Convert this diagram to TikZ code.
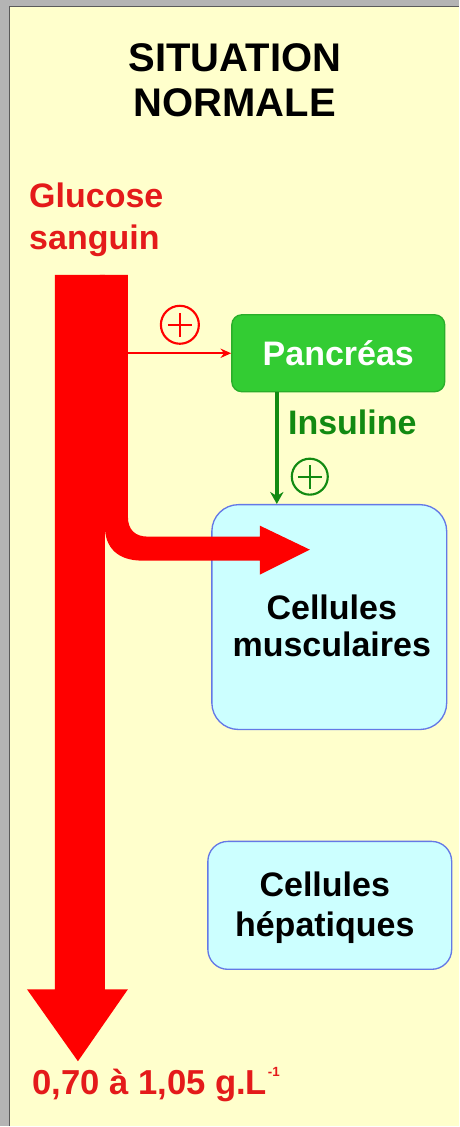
\documentclass[tikz,border=0pt]{standalone}
\usepackage{fontspec}
\setmainfont{Liberation Sans}
\usetikzlibrary{arrows.meta}
\definecolor{bg}{HTML}{FFFFCC}
\definecolor{frameg}{HTML}{B4B4B4}
\definecolor{framed}{HTML}{5A5A5A}
\definecolor{stream}{HTML}{FF0000}
\definecolor{redtxt}{HTML}{E41A1A}
\definecolor{pgreen}{HTML}{33CC33}
\definecolor{pgreenb}{HTML}{2AAE2A}
\definecolor{dgreen}{HTML}{128A12}
\definecolor{cellfill}{HTML}{CCFFFF}
\definecolor{cellb}{HTML}{6478E6}
\tikzset{
  big/.style={font=\fontsize{25.5}{31.5}\selectfont\bfseries},
  cellbox/.style={draw=cellb, line width=1pt, fill=cellfill},
  pluscirc/.style={circle, draw=#1, line width=1.6pt, inner sep=0pt, minimum size=28.5pt,
    path picture={\draw[#1, line width=1.6pt] (path picture bounding box.center) +(-9pt,0) -- +(9pt,0)
      (path picture bounding box.center) +(0,-9pt) -- +(0,9pt);}},
}
\begin{document}
\begin{tikzpicture}[x=0.75pt,y=-0.75pt]
% background and frame
\fill[frameg] (0,0) rectangle (459,1127);
\fill[bg] (9.5,6.5) rectangle (459,1127);
\draw[framed, line width=1.2pt] (9.5,1127) -- (9.5,6.5) -- (459,6.5);

% title (anchor base = last line)
\node[font=\fontsize{30}{33.75}\selectfont\bfseries, align=center, anchor=base, inner sep=0pt] (title) at (235,117) {SITUATION\\NORMALE};

% glucose label
\node[big, text=redtxt, align=left, anchor=base west, inner sep=0pt] (glu) at (29,250) {Glucose\\sanguin};

% nodes
\node[fill=pgreen, draw=pgreenb, line width=1pt, rounded corners=7.5pt,
  minimum width=159.75pt, minimum height=57.75pt, inner sep=0pt,
  big, text=white] (panc) at (338.5,353.5) {Pancréas};

\node[cellbox, rounded corners=20pt, minimum width=176.25pt, minimum height=168.75pt] (musc) at (329.5,617.5) {};
\node[align=center, anchor=base, inner sep=0pt, font=\fontsize{25.5}{27.75}\selectfont\bfseries] (muscT) at (332,657) {Cellules\\musculaires};

\node[cellbox, rounded corners=15pt, minimum width=183pt, minimum height=96pt] (hep) at (330,906) {};
\node[align=center, anchor=base, inner sep=0pt, font=\fontsize{25.5}{30}\selectfont\bfseries] (hepT) at (325,937) {Cellules\\hépatiques};

% red stream: downward arrow
\fill[stream] (55,275) -- (105,275) -- (105,990) -- (128,990) -- (78,1062) -- (27,990) -- (55,990) -- cycle;
% red stream: bent branch
\fill[stream] (100,275) -- (128,275) -- (128,517)
  .. controls (128,530) and (135,537) .. (148,537) -- (260,537) -- (260,526) -- (310,550)
  -- (260,575) -- (260,561) -- (142,561) .. controls (118,561) and (105,548) .. (105,527)
  -- (100,527) -- cycle;

% red thin arrow
\coordinate (barR) at (128,353.5);
\draw[stream, line width=1.5pt, -{Stealth[length=8pt, width=7pt]}] (barR) -- (panc.west);
\node[pluscirc=stream] (plusR) at (180,325) {};

% insulin arrow
\coordinate (gx) at (277,0);
\draw[dgreen, line width=3pt, -{Stealth[length=9pt, width=10pt]}] (panc.south -| gx) -- (musc.north -| gx);
\node[big, text=dgreen, anchor=base west, inner sep=0pt] (ins) at (288,435) {Insuline};
\node[pluscirc=dgreen, minimum size=27pt] (plusG) at (310,477) {};

% bottom value
\node[font=\fontsize{26}{30}\selectfont\bfseries, text=redtxt, anchor=base west, inner sep=0pt] (val) at (32,1095)
  {0,70 à 1,05 g.L\kern0.5pt\raisebox{0.95ex}{\fontsize{10}{10}\selectfont -1}};
\end{tikzpicture}
\end{document}
